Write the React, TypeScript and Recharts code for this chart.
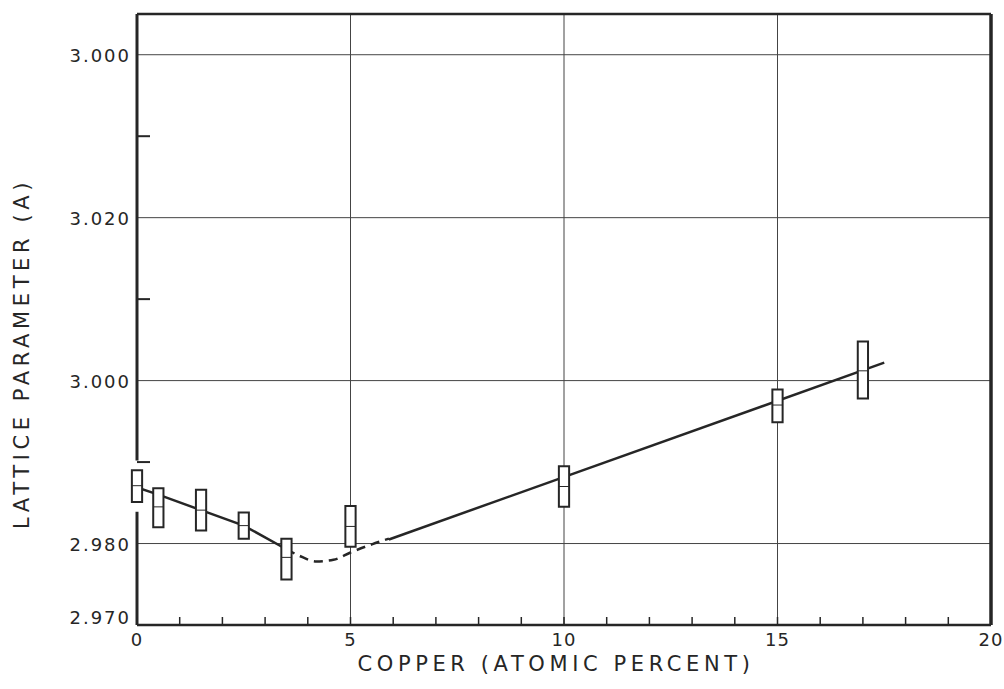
import {
  ComposedChart,
  Line,
  XAxis,
  YAxis,
  CartesianGrid,
  ReferenceArea,
  ReferenceLine,
} from "recharts";

const INK = "#262626";
const FONT = "'DejaVu Sans', sans-serif";

// measured boxes (copper at.% vs lattice parameter range)
const boxX = [0, 0.5, 1.5, 2.5, 3.5, 5, 10, 15, 17];
const boxLow = [2.9851, 2.982, 2.9816, 2.9806, 2.9756, 2.9796, 2.9845, 2.9949, 2.9978];
const boxHigh = [2.989, 2.9868, 2.9866, 2.9838, 2.9806, 2.9846, 2.9895, 2.9989, 3.0048];
const boxMid = [2.9871, 2.9845, 2.9841, 2.9822, 2.9783, 2.9821, 2.987, 2.997, 3.0012];

// drawn curve: solid, dashed dip, solid
const leftX = [0, 0.5, 1.5, 2.5, 3.5];
const leftY = [2.9869, 2.986, 2.9841, 2.9822, 2.9793];
const dipX = [3.5, 3.8, 4.2, 4.6, 5.0, 5.5, 5.9];
const dipY = [2.9793, 2.9785, 2.9778, 2.978, 2.9789, 2.9799, 2.9806];
const rightX = [5.9, 17.5];
const rightY = [2.9805, 3.0022];

const xTicks = Array.from({ length: 21 }, (_, i) => i);
const yMajor = [2.97, 2.98, 3.0, 3.02, 3.04];
const yMajorLabels = ["2.970", "2.980", "3.000", "3.020", "3.000"];
const yMinor = [2.99, 3.01, 3.03];
const yGrid = [2.98, 3.0, 3.02, 3.04];
const xGrid = [5, 10, 15];

const toPts = (xs: number[], ys: number[]) => xs.map((x, i) => ({ x, y: ys[i] }));
const leftData = toPts(leftX, leftY);
const dipData = toPts(dipX, dipY);
const rightData = toPts(rightX, rightY);

const HALF = 0.12;
const Y_TOP = 3.045;

function XTick({ x, y, payload }: any) {
  const v = payload.value;
  return (
    <g>
      <line x1={x} x2={x} y1={y} y2={y - 8} stroke={INK} strokeWidth={1.5} />
      {v % 5 === 0 && (
        <text
          x={x}
          y={y + 21}
          textAnchor="middle"
          fontFamily={FONT}
          fontSize={18}
          letterSpacing={1}
          fill={INK}
        >
          {v}
        </text>
      )}
    </g>
  );
}

function YTick({ x, y, payload }: any) {
  const v = payload.value;
  const idx = yMajor.findIndex((m) => Math.abs(m - v) < 1e-6);
  if (idx < 0) {
    return <line x1={x} x2={x + 13} y1={y} y2={y} stroke={INK} strokeWidth={2} />;
  }
  return (
    <text
      x={x - 6}
      y={y + (idx === 0 ? -8 : 0)}
      dy={7}
      textAnchor="end"
      fontFamily={FONT}
      fontSize={18}
      letterSpacing={2}
      fill={INK}
    >
      {yMajorLabels[idx]}
    </text>
  );
}

export default function App() {
  return (
    <div style={{ position: "absolute", left: 0, top: 0, background: "#fff" }}>
      <ComposedChart
        width={1004}
        height={689}
        margin={{ top: 14, right: 13, bottom: 0, left: 0 }}
      >
        <CartesianGrid
          horizontalValues={yGrid}
          verticalValues={xGrid}
          stroke="#444"
          strokeWidth={1}
        />
        <XAxis
          type="number"
          dataKey="x"
          domain={[0, 20]}
          ticks={xTicks}
          interval={0}
          allowDataOverflow
          height={64}
          tickSize={0}
          tickMargin={0}
          tickLine={false}
          tick={<XTick />}
          axisLine={{ stroke: INK, strokeWidth: 2.5 }}
          label={{
            value: "COPPER (ATOMIC PERCENT)",
            position: "insideBottom",
            offset: 18,
            dx: -8,
            style: { fontFamily: FONT, fontSize: 21, letterSpacing: 4.6, fill: INK },
          }}
        />
        <YAxis
          type="number"
          dataKey="y"
          domain={[2.97, Y_TOP]}
          ticks={[...yMajor, ...yMinor].sort((a, b) => a - b)}
          interval={0}
          allowDataOverflow
          width={137}
          tickSize={0}
          tickMargin={0}
          tickLine={false}
          axisLine={false}
          tick={<YTick />}
          label={{
            value: "LATTICE PARAMETER (A)",
            angle: -90,
            position: "insideLeft",
            offset: 22,
            dy: 34,
            style: { fontFamily: FONT, fontSize: 21, letterSpacing: 4.6, fill: INK, textAnchor: "middle" },
          }}
        />

        {/* frame */}
        <ReferenceLine segment={[{ x: 0, y: 2.97 }, { x: 0, y: 2.9839 }]} stroke={INK} strokeWidth={3} ifOverflow="visible" />
        <ReferenceLine segment={[{ x: 0, y: 2.9902 }, { x: 0, y: Y_TOP }]} stroke={INK} strokeWidth={3} ifOverflow="visible" />
        <ReferenceLine x={20} stroke={INK} strokeWidth={3.5} ifOverflow="visible" />
        <ReferenceLine y={Y_TOP} stroke={INK} strokeWidth={2.5} ifOverflow="visible" />

        <Line data={leftData} dataKey="y" type="linear" stroke={INK} strokeWidth={2.5} dot={false} isAnimationActive={false} />
        <Line data={dipData} dataKey="y" type="monotone" stroke={INK} strokeWidth={2.5} strokeDasharray="9 6" dot={false} isAnimationActive={false} />
        <Line data={rightData} dataKey="y" type="linear" stroke={INK} strokeWidth={2.5} dot={false} isAnimationActive={false} />

        {boxX.map((x, i) => (
          <ReferenceArea
            key={`b${i}`}
            x1={x - HALF}
            x2={x + HALF}
            y1={boxLow[i]}
            y2={boxHigh[i]}
            fill="#fff"
            fillOpacity={1}
            stroke={INK}
            strokeWidth={2}
            ifOverflow="visible"
            zIndex={1000}
          />
        ))}
        {boxX.map((x, i) => (
          <ReferenceLine
            key={`m${i}`}
            segment={[{ x: x - HALF, y: boxMid[i] }, { x: x + HALF, y: boxMid[i] }]}
            stroke={INK}
            strokeWidth={1}
            ifOverflow="visible"
            zIndex={1001}
          />
        ))}
      </ComposedChart>
    </div>
  );
}
